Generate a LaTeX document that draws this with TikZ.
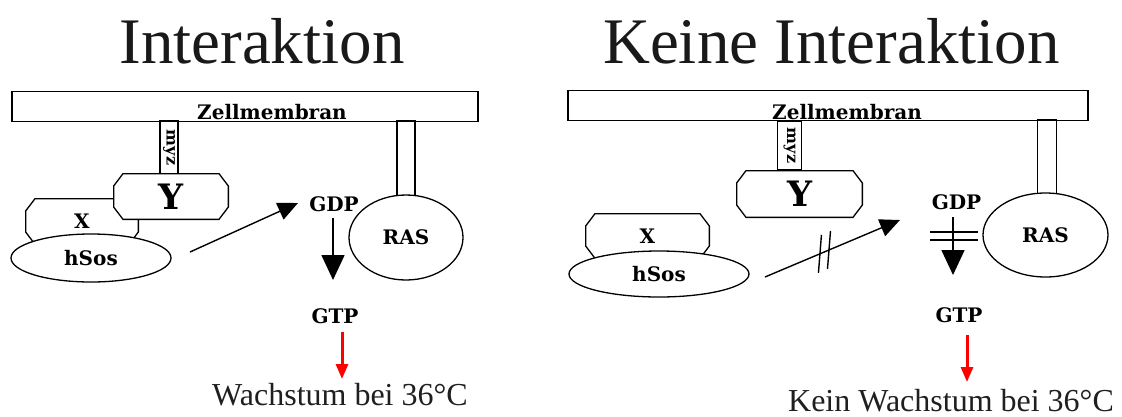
\documentclass[tikz,border=0pt]{standalone}
\usepackage{fontspec}
\setmainfont{Liberation Serif}
\newfontfamily\labelfont{DejaVu Serif}
\usetikzlibrary{arrows.meta,shapes.geometric,calc}

% chamfer sizes of the protein boxes and half the outline width
\newcommand{\chx}{10pt}
\newcommand{\chy}{13pt}
\newcommand{\hw}{0.65pt}

\begin{document}
\begin{tikzpicture}[x=1pt,y=-1pt,
  outline/.style={draw=black, line width=1.3pt, fill=white, inner sep=0pt},
  membrane/.style={outline, rectangle, minimum height=30pt},
  stalk/.style={outline, rectangle},
  protein/.style={rectangle, inner sep=0pt,
    path picture={
      \coordinate (nw) at (path picture bounding box.north west);
      \coordinate (ne) at (path picture bounding box.north east);
      \coordinate (se) at (path picture bounding box.south east);
      \coordinate (sw) at (path picture bounding box.south west);
      \draw[line width=1.3pt, fill=white]
        ($(nw)+(\chx,-\hw)$) -- ($(ne)+(-\chx,-\hw)$) --
        ($(ne)+(-\hw,-\chy)$) -- ($(se)+(-\hw,\chy)$) --
        ($(se)+(-\chx,\hw)$) -- ($(sw)+(\chx,\hw)$) --
        ($(sw)+(\hw,\chy)$) -- ($(nw)+(\hw,-\chy)$) -- cycle;
    }},
  blob/.style={outline, ellipse},
  lab/.style={font=\labelfont\bfseries\fontsize{20}{22}\selectfont, inner sep=0pt},
  biglab/.style={font=\labelfont\bfseries\fontsize{35}{38}\selectfont},
  smalllab/.style={font=\labelfont\bfseries\fontsize{16}{18}\selectfont},
  title/.style={font=\fontsize{65}{70}\selectfont, text=black!90, anchor=base, inner sep=0pt},
  result/.style={font=\fontsize{32}{36}\selectfont, text=black!88, anchor=base, inner sep=0pt},
  push/.style={line width=1.4pt, -{Triangle[length=20pt,width=18pt]}},
  exchange/.style={line width=1.6pt, -{Triangle[length=25pt,width=23pt]}},
  signal/.style={draw=red, line width=3pt, -{Triangle[length=15pt,width=12pt]}},
  bar/.style={line width=1.4pt}
]
\useasboundingbox (0,0) rectangle (1122,416);

% ---------------- left panel: Interaktion ----------------
\node[title] (t1) at (262,63) {Interaktion};

\node[membrane, minimum width=466pt] (m1) at (245,106.5) {};
\node[lab, anchor=base] (z1) at (272,119) {Zellmembran};

\node[stalk, rotate=-90, minimum width=53pt, minimum height=18pt, smalllab] (s1) at (169,147.5) {myz};
\node[stalk, minimum width=18pt, minimum height=75pt] (r1) at (406,158.5) {};

\node[protein, minimum width=114pt, minimum height=47pt, lab] (x1) at (82,221.5) {X};
\node[protein, minimum width=116pt, minimum height=47pt, biglab] (y1) at (171,196.5) {Y};
\node[blob, minimum width=160pt, minimum height=48pt, lab] (h1) at (91,258) {hSos};
\node[blob, minimum width=114pt, minimum height=85pt, lab] (ras1) at (406,237.5) {RAS};

\node[lab] (gdp1) at (334,204.5) {GDP};
\node[lab] (gtp1) at (335,316) {GTP};

\coordinate (p1s) at (190,252);
\coordinate (p1e) at (298,203);
\draw[push] (p1s) -- (p1e);

\coordinate (d1s) at (333,218);
\coordinate (d1e) at (333,280);
\draw[exchange] (d1s) -- (d1e);

\coordinate (g1s) at (342,332);
\coordinate (g1e) at (342,379);
\draw[signal] (g1s) -- (g1e);

\node[result] (w1) at (340,405) {Wachstum bei 36°C};

% ---------------- right panel: Keine Interaktion ----------------
\node[title] (t2) at (831.5,63) {Keine Interaktion};

\node[membrane, minimum width=520pt] (m2) at (828,105.5) {};
\node[lab, anchor=base] (z2) at (847,119) {Zellmembran};

\node[stalk, rotate=-90, minimum width=49pt, minimum height=24pt, smalllab] (s2) at (789.5,145.5) {myz};
\node[stalk, minimum width=19pt, minimum height=75pt] (r2) at (1047,157.5) {};

\node[protein, minimum width=125pt, minimum height=46pt, lab] (x2) at (647.5,236) {X};
\node[protein, minimum width=127pt, minimum height=48pt, biglab] (y2) at (799.5,194) {Y};
\node[blob, minimum width=180pt, minimum height=46pt, lab] (h2) at (659,274) {hSos};
\node[blob, minimum width=125pt, minimum height=84pt, lab] (ras2) at (1045.5,235) {RAS};

\node[lab] (gdp2) at (956.5,202.5) {GDP};
\node[lab] (gtp2) at (959,315) {GTP};

% blocked exchange factor: arrow crossed by two strokes
\coordinate (p2s) at (765,277);
\coordinate (p2e) at (900,220);
\draw[push] (p2s) -- coordinate[pos=0.407] (k1) coordinate[pos=0.474] (k2) (p2e);
\draw[bar] ($(k1)+(1.5,-19)$) -- ($(k1)+(-1.5,19)$);
\draw[bar] ($(k2)+(1.5,-19)$) -- ($(k2)+(-1.5,19)$);

% blocked GDP/GTP exchange: arrow crossed by two bars
\coordinate (d2s) at (953,217);
\coordinate (d2e) at (953,275);
\draw[exchange] (d2s) -- (d2e);
\draw[bar] ($(d2s)+(-23,15)$) -- ($(d2s)+(25,15)$);
\draw[bar] ($(d2s)+(-23,23)$) -- ($(d2s)+(25,23)$);

\coordinate (g2s) at (967,335);
\coordinate (g2e) at (967,382);
\draw[signal] (g2s) -- (g2e);

\node[result] (w2) at (951,411) {Kein Wachstum bei 36°C};
\end{tikzpicture}
\end{document}
